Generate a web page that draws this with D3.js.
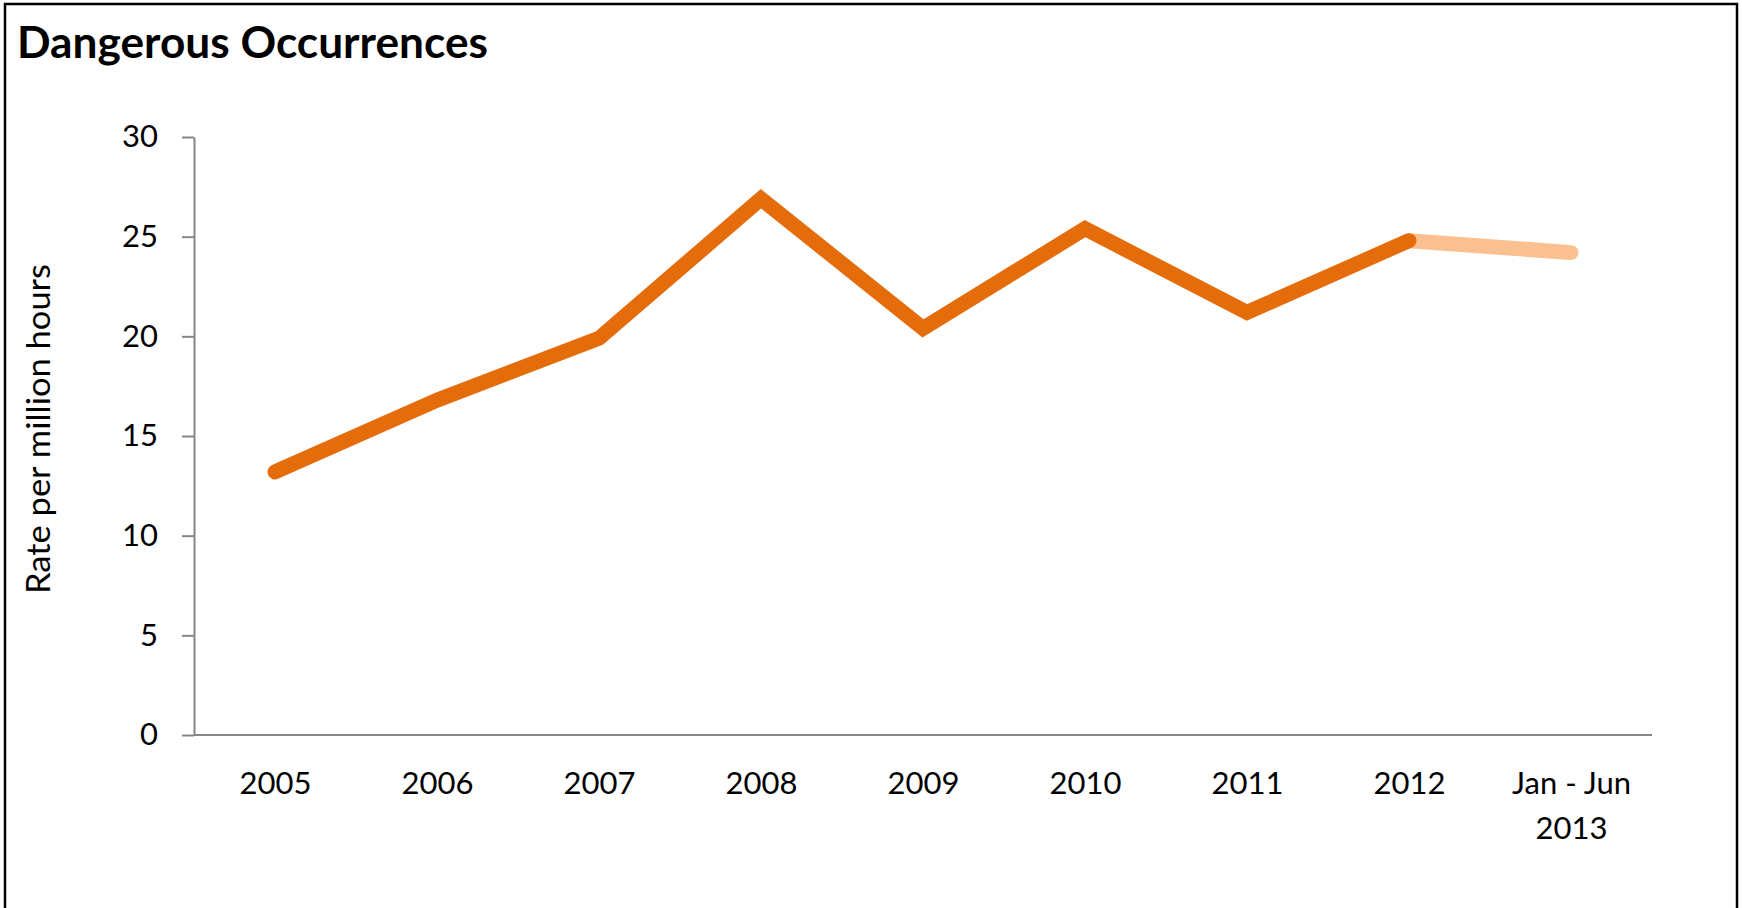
<!DOCTYPE html>
<html>
<head>
<meta charset="utf-8">
<script src="https://cdn.jsdelivr.net/npm/d3@7"></script>
<style>
  body { margin: 0; background: #fff; }
  text { font-family: Lato, "Open Sans", sans-serif; fill: #000; }
</style>
</head>
<body>
<svg width="1742" height="908"></svg>
<script>
// data
const categories = ['2005', '2006', '2007', '2008', '2009', '2010', '2011', '2012', 'Jan - Jun 2013'];
const xLabels = [['2005'], ['2006'], ['2007'], ['2008'], ['2009'], ['2010'], ['2011'], ['2012'], ['Jan - Jun', '2013']];
const rates = [13.2, 16.8, 19.9, 26.9, 20.4, 25.4, 21.2, 24.8, 24.2];
const yTicks = [0, 5, 10, 15, 20, 25, 30];
const fullYears = 8; // first 8 points are full years, last is a half-year

const svg = d3.select('svg');
const width = +svg.attr('width');
const height = +svg.attr('height');

const margin = { top: 137, right: 90, bottom: 173, left: 194 };
const innerWidth = width - margin.left - margin.right;
const innerHeight = height - margin.top - margin.bottom;

// frame
svg.append('rect')
  .attr('x', 5).attr('y', 4)
  .attr('width', 1732).attr('height', 940)
  .attr('fill', 'none')
  .attr('stroke', '#000')
  .attr('stroke-width', 2.5);

svg.append('text')
  .attr('x', 17).attr('y', 58)
  .attr('font-size', 44)
  .attr('font-weight', 'bold')
  .attr('textLength', 471)
  .attr('lengthAdjust', 'spacingAndGlyphs')
  .text('Dangerous Occurrences');

const g = svg.append('g').attr('transform', `translate(${margin.left},${margin.top})`);

const xScale = d3.scalePoint()
  .domain(categories)
  .range([0, innerWidth])
  .padding(0.5);

const yScale = d3.scaleLinear()
  .domain([0, 30])
  .range([innerHeight, 0]);

// y axis
const yAxisG = g.append('g')
  .call(d3.axisLeft(yScale).tickValues(yTicks).tickSize(12).tickSizeOuter(0).tickPadding(24));
yAxisG.selectAll('path, line').attr('stroke', '#868686').attr('stroke-width', 2);
yAxisG.selectAll('text').attr('font-size', 31).attr('font-family', 'Lato').attr('fill', '#000');

// x axis, labels drawn as own texts so the two-line one can wrap
const xAxisG = g.append('g')
  .attr('transform', `translate(0,${innerHeight})`)
  .call(d3.axisBottom(xScale).tickSize(0).tickSizeOuter(0));
xAxisG.select('.domain').attr('stroke', '#868686').attr('stroke-width', 2)
  .attr('d', `M0,0H${innerWidth}`);
xAxisG.selectAll('.tick text').remove();
xAxisG.selectAll('.tick').each(function (d, i) {
  d3.select(this).selectAll('text.lbl')
    .data(xLabels[i])
    .join('text')
    .attr('class', 'lbl')
    .attr('y', (line, j) => 59 + j * 45)
    .attr('text-anchor', 'middle')
    .attr('font-size', 31)
    .attr('font-family', 'Lato')
    .attr('fill', '#000')
    .text(line => line);
});

// y axis title
svg.append('text')
  .attr('transform', 'rotate(-90)')
  .attr('x', -429).attr('y', 50)
  .attr('text-anchor', 'middle')
  .attr('font-size', 33)
  .attr('textLength', 330)
  .attr('lengthAdjust', 'spacingAndGlyphs')
  .text('Rate per million hours');

// line
const points = categories.map((c, i) => ({ c, v: rates[i] }));
const lineGen = d3.line()
  .x(d => xScale(d.c))
  .y(d => yScale(d.v));

g.append('path')
  .datum(points.slice(fullYears - 1))
  .attr('d', lineGen)
  .attr('fill', 'none')
  .attr('stroke', '#FAC090')
  .attr('stroke-width', 15)
  .attr('stroke-linecap', 'round');

g.append('path')
  .datum(points.slice(0, fullYears))
  .attr('d', lineGen)
  .attr('fill', 'none')
  .attr('stroke', '#E46C0A')
  .attr('stroke-width', 15)
  .attr('stroke-linecap', 'round')
  .attr('stroke-linejoin', 'miter');
</script>
</body>
</html>
